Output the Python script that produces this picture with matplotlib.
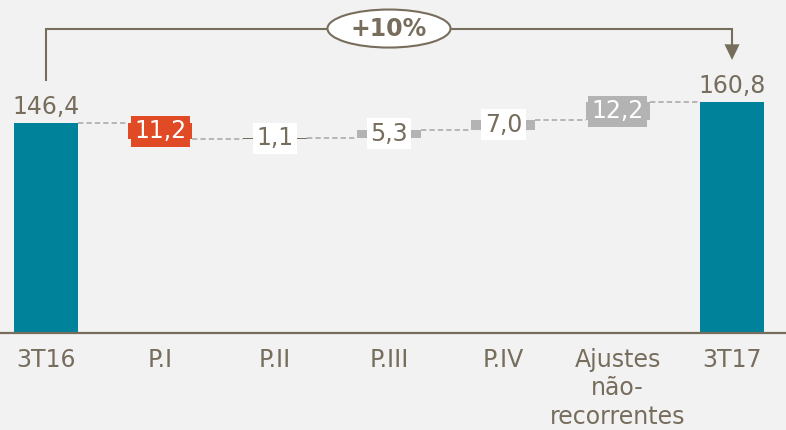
import os
import matplotlib
matplotlib.use('Agg')
import matplotlib.pyplot as plt
from matplotlib.patches import Ellipse
from matplotlib import font_manager as fm

# ---------------- data ----------------
categories = ['3T16', 'P.I', 'P.II', 'P.III', 'P.IV', 'Ajustes\nnão-\nrecorrentes', '3T17']
start_value = 146.4
deltas = [-11.2, 1.1, 5.3, 7.0, 12.2]
end_value = 160.8
growth_label = '+10%'

# ---------------- style ----------------
BG = '#f2f2f2'
TXT = '#776d5d'
TEAL = '#00829a'
RED = '#e04a25'
GREY = '#b3b3b3'
DASH = '#a6a6a6'
delta_colors = [RED, TXT, GREY, GREY, GREY]
label_fc = [RED, 'white', 'white', 'white', GREY]
label_tc = ['white', TXT, TXT, TXT, 'white']

ttf_dir = os.path.join(matplotlib.get_data_path(), 'fonts', 'ttf')
reg_path = os.path.join(ttf_dir, 'DejaVuSans.ttf')
bold_path = os.path.join(ttf_dir, 'DejaVuSans-Bold.ttf')
if os.path.exists(reg_path):
    FP = fm.FontProperties(fname=reg_path, size=17)
else:
    FP = fm.FontProperties(family='DejaVu Sans', size=17)
if os.path.exists(bold_path):
    FPB = fm.FontProperties(fname=bold_path, size=17)
else:
    FPB = fm.FontProperties(family='DejaVu Sans', weight='bold', size=17)

fmt = lambda v: f'{abs(v):.1f}'.replace('.', ',')

fig = plt.figure(figsize=(7.86, 4.30), dpi=100)
fig.patch.set_facecolor(BG)
ax = fig.add_axes([0, 0, 1, 1])
ax.set_facecolor(BG)
ax.set_xlim(-0.402, 6.472)
ax.set_ylim(-67.6, 232.2)
ax.axis('off')

w = 0.56
n = len(categories)

# totals
for i, v in [(0, start_value), (n - 1, end_value)]:
    ax.bar(i, v, width=w, color=TEAL, zorder=2)
    ax.annotate(fmt(v), (i, v), xytext=(0, 3), textcoords='offset points',
                ha='center', va='bottom', fontproperties=FP, color=TXT)

# deltas
level = start_value
levels = [level]
for k, d in enumerate(deltas):
    i = k + 1
    bottom = level if d >= 0 else level + d
    ax.bar(i, abs(d), bottom=bottom, width=w, color=delta_colors[k], zorder=2)
    ax.text(i, bottom + abs(d) / 2, fmt(d), ha='center', va='center',
            fontproperties=FP, color=label_tc[k], zorder=4,
            bbox=dict(boxstyle='square,pad=0.15', fc=label_fc[k], ec='none'))
    level += d
    levels.append(level)

# connectors
for i, lv in enumerate(levels):
    ax.plot([i + w / 2, i + 1 - w / 2], [lv, lv], color=DASH, lw=1.1,
            linestyle=(0, (3.5, 2)), zorder=1)

# baseline
ax.axhline(0, color=TXT, lw=1.6, zorder=3)

# category labels
for i, c in enumerate(categories):
    ax.annotate(c, (i, 0), xytext=(0, -11), textcoords='offset points',
                ha='center', va='top', fontproperties=FP, color=TXT,
                linespacing=1.22)

# growth bracket
top = end_value + 51.5
ax.plot([0, 0, n - 1, n - 1], [start_value + 30, top, top, end_value + 41],
        color=TXT, lw=1.5, zorder=3, solid_joinstyle='miter')
hw = 0.066
ax.fill([n - 1 - hw, n - 1 + hw, n - 1],
        [end_value + 40.5, end_value + 40.5, end_value + 29.6],
        color=TXT, zorder=3, lw=0)
ax.add_patch(Ellipse((3, top), width=1.076, height=26.5, facecolor='white',
                     edgecolor=TXT, lw=1.5, zorder=4))
ax.text(3, top, growth_label, ha='center', va='center', fontproperties=FPB,
        color=TXT, zorder=5)

fig.savefig('out.png', dpi=100, facecolor=BG)
